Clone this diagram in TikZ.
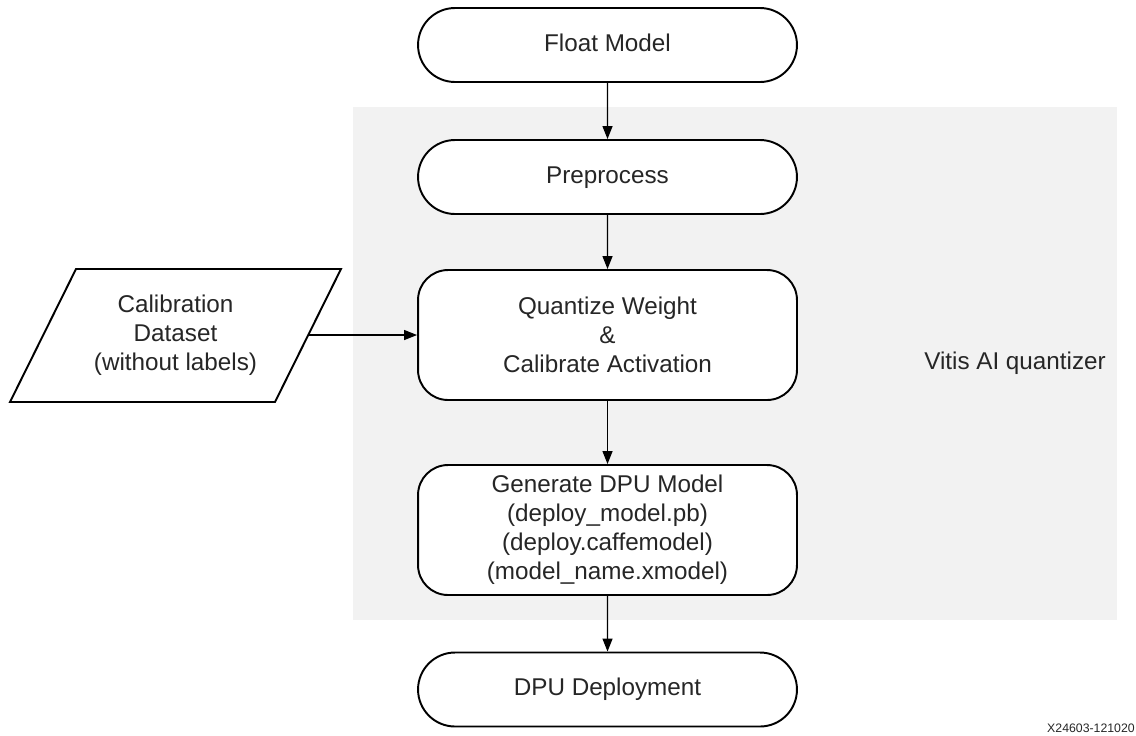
\documentclass[tikz,border=0pt]{standalone}
\usepackage{fontspec}
\setmainfont{Liberation Sans}
\usetikzlibrary{arrows.meta,shapes.misc}
\begin{document}
\begin{tikzpicture}[x=0.02cm,y=-0.02cm,
    font=\fontsize{13.8}{16.5}\selectfont, text=black!85,
    term/.style={rounded rectangle,draw,line width=1.1pt,fill=white,minimum width=7.58cm,minimum height=1.48cm,inner sep=0pt,text height=0.716em,text depth=0pt},
    proc/.style={rectangle,rounded corners=0.6cm,draw,line width=1.1pt,fill=white,minimum width=7.58cm,minimum height=2.6cm,align=center,inner sep=0pt},
    flow/.style={-{Triangle[length=0.26cm,width=0.2cm]},line width=0.7pt}]
    \useasboundingbox (0,0) rectangle (1136,735);
    \fill[black!5] (353,107) rectangle (1117,620);
    \node[term] (F) at (607.5,45) {Float Model};
    \node[term] (P) at (607.5,177) {Preprocess};
    \node[proc] (Q) at (607.5,335) {Quantize Weight\\\&\\Calibrate Activation};
    \node[proc] (G) at (607.5,530) {Generate DPU Model\\(deploy\_model.pb)\\(deploy.caffemodel)\\(model\_name.xmodel)};
    \node[term] (D) at (607.5,689.5) {DPU Deployment};
    % input data parallelogram
    \draw[line width=1.1pt,fill=white] (10,402) -- (76,269) -- (341,269) -- (275,402) -- cycle;
    \node[align=center] (C) at (175.5,335) {Calibration\\Dataset\\(without labels)};
    \coordinate (Ce) at (308,335);
    \node (V) at (1015,363) {Vitis AI quantizer};
    \node[font=\fontsize{7}{8}\selectfont] (X) at (1091,728) {X24603-121020};
    \draw[flow] (F) -- (P);
    \draw[flow] (P) -- (Q);
    \draw[flow] (Q) -- (G);
    \draw[flow] (G) -- (D);
    \draw[flow] (Ce) -- (Q);
\end{tikzpicture}
\end{document}
